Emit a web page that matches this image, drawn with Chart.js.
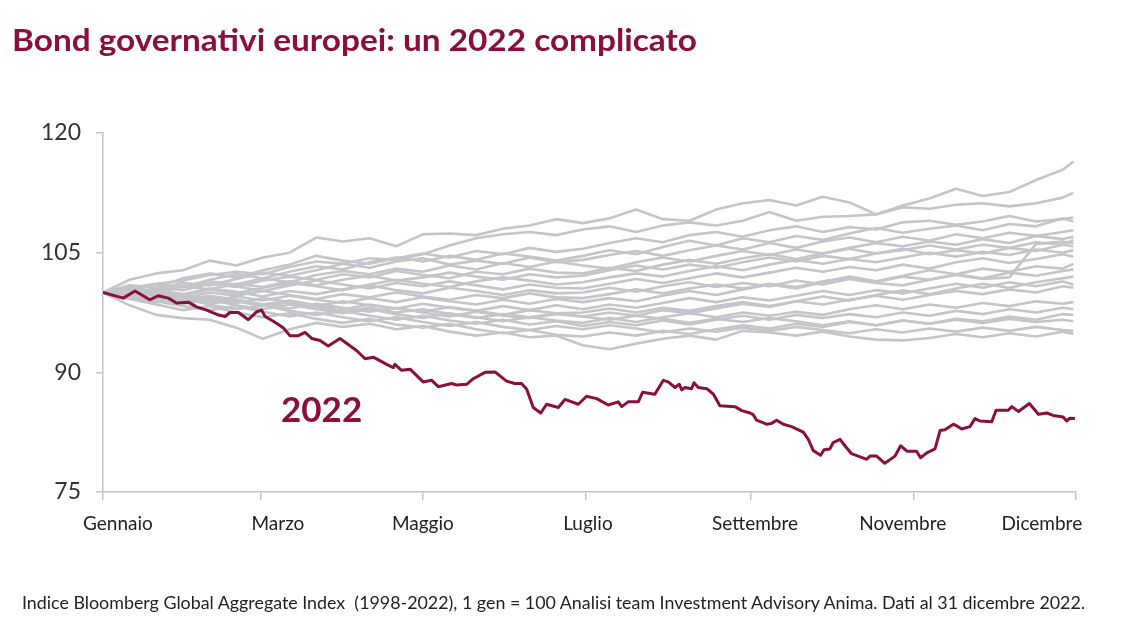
<!DOCTYPE html>
<html><head><meta charset="utf-8">
<script src="https://cdn.jsdelivr.net/npm/chart.js@4.4.1/dist/chart.umd.min.js"></script>
<style>
html,body{margin:0;padding:0;background:#fff;width:1137px;height:632px;overflow:hidden;}
#wrap{position:absolute;left:0;top:0;width:1137px;height:632px;}
#title{position:absolute;left:12px;top:24px;font-family:Lato,sans-serif;font-weight:700;font-size:30px;color:#8a0f3c;white-space:nowrap;line-height:1;transform-origin:0 0;}
#foot{position:absolute;left:22px;top:594px;font-family:Lato,sans-serif;font-size:17px;color:#222;white-space:nowrap;line-height:1;transform-origin:0 0;}
</style></head>
<body>
<div id="wrap"><canvas id="c" width="1137" height="632"></canvas></div>
<div id="title">Bond governativi europei: un 2022 complicato</div>
<div id="foot">Indice Bloomberg Global Aggregate Index&nbsp; (1998-2022), 1 gen = 100 Analisi team Investment Advisory Anima. Dati al 31 dicembre 2022.</div>
<script>
// ---- axis definitions ----
const yTicks = [75, 90, 105, 120];
const tickDays = [0, 59, 120, 181, 243, 304, 365];
const monthLabels = ['Gennaio','Marzo','Maggio','Luglio','Settembre','Novembre','Dicembre'];
const labelDays = [5.6, 65.6, 120, 181.9, 244.6, 300, 352.2];

// ---- 2022 series ----
const days2022 = [0,7.6,12,17.6,20.7,24.5,27.6,32,35.1,38.9,42.7,45.8,47.6,50.8,54.5,57.7,59.5,60.8,63.9,67.6,70.1,73.3,75.8,78.3,81.4,84.5,88.9,92,95.2,98.3,101.4,106.4,108.9,109.5,112,115.2,120.1,123.3,125.8,130.8,132.7,136.4,138.9,143.3,147,151.4,154.5,157,158.9,161.4,164.2,166.4,170.8,173.3,178.3,181.4,185.2,189.5,193.3,194.6,197,200.8,202.4,207,210.2,212,214.6,216.2,217.1,218.3,220.8,221.7,223.3,226.5,229,231.4,237.1,239.6,242.7,243.9,245.2,248.9,250.8,252.7,255.2,258.3,262.7,264.6,266.4,269.2,270.5,272.7,273.9,276.5,278.3,280.8,286.5,287.7,290.2,293.3,297.1,299.2,301.7,305.2,306.7,309,312.1,314,315.8,319,320.2,322.1,325.2,327.1,329,333.4,335,339.6,340.9,343.4,347.5,350.9,354.1,356.4,360.2,361.5,362.7,364.6];
const values2022 = [100,99.3,100.2,99.1,99.6,99.3,98.7,98.8,98.2,97.8,97.25,97.0,97.5,97.5,96.6,97.6,97.8,97.0,96.4,95.6,94.6,94.6,95.0,94.25,94.0,93.3,94.25,93.5,92.7,91.7,91.9,91.0,90.6,91.0,90.25,90.4,88.8,89.0,88.2,88.6,88.4,88.5,89.2,90.0,90.05,88.9,88.6,88.6,87.9,85.6,84.9,86.0,85.6,86.6,86.0,87.0,86.7,85.9,86.3,85.7,86.3,86.3,87.5,87.25,89.0,88.8,88.1,88.5,87.8,88.1,87.95,88.7,88.1,87.95,87.25,85.8,85.7,85.2,84.9,84.7,84.0,83.5,83.6,84.0,83.5,83.2,82.5,81.6,80.2,79.6,80.3,80.4,81.2,81.6,80.8,79.8,79.1,79.5,79.5,78.6,79.5,80.8,80.1,80.1,79.3,79.9,80.4,82.7,82.8,83.5,83.3,82.9,83.2,84.2,83.9,83.8,85.25,85.25,85.7,85.1,86.1,84.75,84.9,84.6,84.4,83.9,84.25,84.2];
const label2022 = '2022';
const label2022Pos = [82, 85.2];

// ---- past years (1998-2021), sampled every ~10 days ----
const grayDays = [0,10,20,30,40,50,60,70,80,90,100,110,120,130,140,150,160,170,180,190,200,210,220,230,240,250,260,270,280,290,300,310,320,330,340,350,360,364];
const s01 = [100,101.6,102.4,102.8,104.0,103.4,104.4,105.0,106.9,106.4,106.8,105.8,107.3,107.4,107.2,108.0,108.4,109.2,108.7,109.3,110.4,109.2,109.0,110.4,111.2,111.6,110.9,112.0,111.3,109.8,110.9,111.8,113.0,112.1,112.6,114.1,115.4,116.4];
const s02 = [100,100.6,101.1,101.5,102.2,102.6,102.3,103.2,103.9,103.6,104.3,104.1,104.8,105.9,106.8,107.3,107.6,107.2,107.9,108.3,107.6,108.4,108.8,108.4,109.0,110.1,109.0,109.5,109.6,109.8,110.7,110.5,111.0,111.2,110.8,111.2,111.9,112.5];
const s03 = [100,100.9,100.6,101.8,102.4,101.9,102.8,103.5,104.6,104.0,103.6,104.3,104.9,104.4,105.2,104.8,105.6,105.1,105.5,106.2,106.8,106.3,107.2,107.6,107.0,107.8,108.3,107.6,108.2,107.9,108.8,109.0,108.5,108.9,109.6,108.9,109.2,109.4];
const s04 = [100,100.2,101.0,100.7,101.6,102.3,101.8,102.6,103.3,102.9,103.8,104.4,103.9,104.6,104.1,104.9,104.5,104.0,104.6,105.3,104.8,105.7,106.5,105.9,106.8,106.3,107.1,106.6,107.4,108.1,107.5,108.0,108.4,107.8,108.6,108.3,109.3,108.9];
const s05 = [100,99.6,100.4,101.2,100.9,101.7,102.5,102.1,102.8,103.6,103.1,103.9,104.3,103.5,104.0,103.6,104.4,103.8,104.1,104.7,105.2,104.6,105.3,105.9,105.4,106.2,105.6,106.4,106.9,106.3,107.0,106.5,107.3,106.8,107.5,107.1,107.6,107.8];
const s06 = [100,100.5,99.9,100.8,101.4,101.0,101.8,101.3,102.2,102.7,102.3,103.0,102.6,103.4,102.9,103.7,103.2,103.9,103.4,103.0,103.8,104.4,103.9,104.6,105.2,104.7,105.4,104.9,105.6,106.2,105.8,106.4,106.0,106.7,106.2,107.1,106.7,107.0];
const s07 = [100,99.8,100.6,100.3,101.1,100.7,101.5,102.0,101.6,102.3,101.9,102.7,102.2,101.8,102.6,102.3,103.0,102.5,102.4,103.1,102.7,103.5,104.1,103.6,104.3,104.8,104.2,104.9,105.5,104.9,105.3,105.9,105.4,106.0,105.6,106.3,106.0,106.6];
const s08 = [100,100.3,100.0,99.6,100.4,101.1,100.7,101.4,100.9,101.6,102.1,101.5,101.9,102.5,102.0,101.6,102.3,101.9,102.1,102.8,103.4,102.9,103.5,103.1,103.8,104.4,103.9,104.6,104.2,104.9,105.5,104.8,105.3,104.9,105.6,105.2,106.0,105.8];
const s09 = [100,99.5,100.2,100.8,100.4,99.9,100.6,101.2,100.8,100.3,101.0,101.6,101.1,100.7,101.4,101.9,101.5,101.0,101.3,101.9,102.4,102.0,102.7,103.3,102.8,103.5,104.1,103.6,104.2,103.8,104.4,105.0,104.5,105.1,104.7,105.4,105.0,105.3];
const s10 = [100,100.6,100.1,100.7,101.3,100.8,100.2,100.9,101.5,101.0,100.5,101.2,100.8,101.4,100.9,100.4,101.0,100.6,100.5,101.1,101.7,101.2,101.8,102.4,101.9,102.5,103.1,102.6,103.2,102.8,103.5,103.0,103.8,104.3,103.7,104.2,104.8,104.5];
const s11 = [100,99.7,100.3,99.8,100.5,100.1,99.5,100.2,99.8,100.4,100.9,100.3,99.9,100.6,100.2,99.7,100.3,99.9,100.0,100.6,100.1,100.8,101.3,100.7,101.2,100.8,101.5,101.0,101.7,101.2,100.9,101.6,102.2,101.7,101.9,106.1,106.4,106.2];
const s12 = [100,100.4,99.8,99.3,100.0,99.6,100.2,99.7,99.2,99.8,99.4,100.0,99.5,99.1,99.7,99.3,99.9,99.4,99.3,99.8,100.4,99.9,100.5,101.0,100.5,101.1,100.7,101.4,101.9,101.3,102.0,101.6,102.3,101.8,102.5,102.1,102.7,102.9];
const s13 = [100,99.5,99.9,99.4,98.9,99.5,99.0,99.6,99.1,98.7,99.3,98.8,99.4,98.9,98.5,99.1,98.6,99.2,98.8,99.3,98.9,99.6,100.2,99.7,100.4,101.0,100.5,101.3,102.0,101.4,102.1,102.8,102.3,103.0,102.6,103.3,103.0,103.6];
const s14 = [100,99.6,99.1,99.7,99.2,98.7,99.3,98.8,98.3,98.9,98.4,98.0,98.6,98.1,97.7,98.3,97.8,98.4,97.9,98.5,98.1,98.7,99.3,98.8,99.4,99.0,99.6,100.2,99.7,100.3,99.9,100.5,101.1,100.6,101.3,100.8,101.4,101.0];
const s15 = [100,100.2,99.5,99.0,99.6,99.1,98.5,99.0,98.4,97.9,98.5,98.0,97.6,98.2,97.7,97.2,97.8,97.4,97.5,98.0,97.5,98.1,97.7,98.3,98.8,98.3,98.9,98.5,99.1,99.6,99.1,99.7,100.2,99.8,100.4,100.0,100.8,100.6];
const s16 = [100,99.4,99.8,99.2,98.6,99.1,98.5,98.0,98.6,98.1,97.6,98.1,97.5,97.0,97.6,97.1,96.8,97.3,97.0,97.5,97.1,97.8,97.4,98.0,98.6,98.2,98.9,99.5,99.0,99.7,100.3,99.8,100.5,101.1,100.6,101.3,101.8,102.0];
const s17 = [100,99.7,99.2,98.6,99.1,98.4,97.9,98.5,97.9,97.4,97.9,97.3,96.8,97.4,96.9,96.4,96.9,96.5,96.2,96.8,96.3,96.9,97.4,96.9,97.5,97.1,97.6,97.2,97.9,98.4,97.9,98.5,98.1,98.7,98.3,98.9,98.6,98.8];
const s18 = [100,99.3,98.8,99.2,98.5,97.9,98.4,97.7,97.2,97.7,97.1,96.6,97.1,96.5,96.1,96.6,96.0,96.4,95.8,96.3,95.9,96.5,96.0,96.6,97.1,96.6,97.2,96.8,97.3,96.9,97.5,97.1,97.7,97.3,97.9,97.5,98.1,97.9];
const s19 = [100,99.2,98.5,97.8,98.3,97.5,96.9,97.4,96.7,96.2,96.7,96.0,95.6,96.1,95.4,94.9,95.3,94.7,94.5,95.0,94.6,95.2,94.8,95.4,95.9,95.5,96.1,95.7,96.3,95.9,96.5,96.1,96.7,96.4,97.0,96.6,97.3,97.2];
const s20 = [100,98.4,97.2,96.8,96.6,95.6,94.2,95.4,96.2,95.7,96.1,95.4,95.8,95.1,94.6,95.0,94.4,94.6,93.4,92.9,93.6,94.2,94.6,94.1,95.2,95.0,94.6,95.1,94.5,94.1,94.0,94.3,94.8,94.4,94.9,94.5,95.1,94.8];
const s21 = [100,100.3,99.6,99.0,99.5,98.9,98.3,98.8,98.2,97.6,98.1,97.5,97.9,97.3,96.8,97.3,96.9,97.4,97.0,96.6,97.1,96.7,96.2,96.7,96.3,96.8,96.4,95.9,96.4,95.9,96.5,96.1,96.6,96.2,96.7,96.3,96.6,96.4];
const s22 = [100,99.5,98.9,98.3,97.8,98.3,97.6,97.0,97.5,96.9,96.4,96.9,96.3,95.8,96.3,95.7,95.3,95.8,95.4,95.9,95.5,95.0,95.5,95.1,95.6,95.2,95.7,95.3,94.9,95.4,95.0,95.5,95.1,95.6,95.2,95.7,95.3,95.2];
const grayRuns = [s01,s02,s03,s04,s05,s06,s07,s08,s09,s10,s11,s12,s13,s14,s15,s16,s17,s18,s19,s20,s21,s22];

const RED = '#8a0f3c';
const GRAY = '#c3c5c8';
const AXIS = '#c4c4c4';

const datasets = [{
  label: '2022',
  data: days2022.map((d,i)=>({x:d,y:values2022[i]})),
  borderColor: RED, borderWidth: 3, pointRadius: 0, tension: 0,
  borderJoinStyle: 'round', order: 0
}];
grayRuns.forEach((run, k) => {
  datasets.push({
    label: 'y' + k,
    data: grayDays.map((d,i)=>({x:d,y:run[i]})),
    borderColor: GRAY, borderWidth: 2.6, pointRadius: 0, tension: 0,
    borderJoinStyle: 'round', order: 1
  });
});

const labelPlugin = {
  id: 'lbl2022',
  afterDatasetsDraw(chart) {
    const {ctx, scales} = chart;
    ctx.save();
    ctx.font = '700 35px Lato, sans-serif';
    ctx.fillStyle = RED;
    ctx.textAlign = 'center';
    ctx.textBaseline = 'middle';
    ctx.fillText(label2022, scales.x.getPixelForValue(label2022Pos[0]), scales.y.getPixelForValue(label2022Pos[1]));
    ctx.restore();
  }
};

let chart;
function build() {
  if (chart) chart.destroy();
  chart = new Chart(document.getElementById('c'), {
    type: 'line',
    data: { datasets },
    plugins: [labelPlugin],
    options: {
      responsive: false, animation: false, events: [],
      layout: { padding: { left: 0, right: 61, top: 133, bottom: 92 } },
      plugins: { legend: { display: false }, tooltip: { enabled: false } },
      scales: {
        x: {
          type: 'linear', min: 0, max: 365, position: 'bottom',
          afterBuildTicks(s) { s.ticks = tickDays.map(v => ({value: v})); },
          afterFit(s) { s.height = 8; },
          ticks: { display: false },
          grid: { drawOnChartArea: false, drawTicks: true, tickLength: 8, color: AXIS, lineWidth: 1.5 },
          border: { display: true, color: AXIS, width: 1.5 }
        },
        x2: {
          type: 'linear', min: 0, max: 365, position: 'bottom',
          afterBuildTicks(s) { s.ticks = labelDays.map(v => ({value: v})); },
          afterFit(s) { s.height = 40; },
          ticks: {
            padding: 12, maxRotation: 0, autoSkip: false,
            color: '#222', font: { family: 'Lato', size: 19 },
            callback: (v, i) => monthLabels[i]
          },
          grid: { display: false, drawTicks: false },
          border: { display: false }
        },
        y: {
          min: 75, max: 120,
          afterBuildTicks(s) { s.ticks = yTicks.map(v => ({value: v})); },
          afterFit(s) { s.width = 103; },
          ticks: { padding: 15, color: '#333', font: { family: 'Lato', size: 23 } },
          grid: { drawOnChartArea: false, drawTicks: true, tickLength: 7, color: AXIS, lineWidth: 1.5 },
          border: { display: true, color: AXIS, width: 1.5 }
        }
      }
    }
  });
}
function fit(id, w) {
  const el = document.getElementById(id);
  el.style.transform = 'none';
  const r = el.getBoundingClientRect().width;
  if (r > 0) el.style.transform = 'scaleX(' + (w / r) + ')';
}
build();
fit('title', 685); fit('foot', 1063);
if (document.fonts && document.fonts.ready) {
  document.fonts.load('21px Lato').then(() => document.fonts.ready).then(() => {
    build(); fit('title', 685); fit('foot', 1063);
  });
}
</script>
</body></html>
